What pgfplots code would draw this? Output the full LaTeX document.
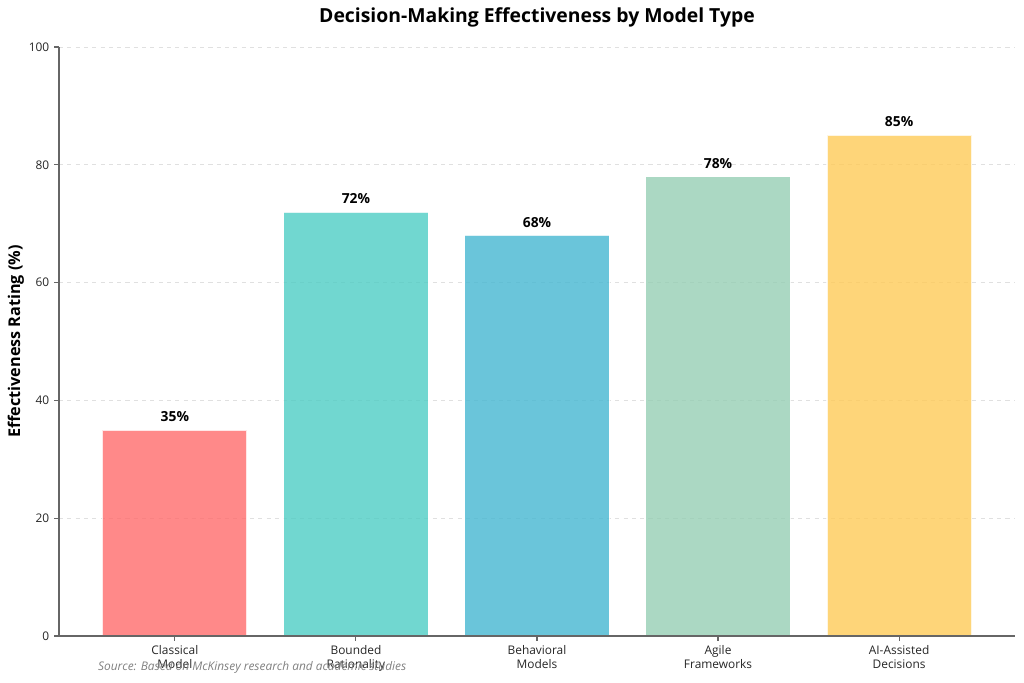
\documentclass[border=0pt]{standalone}
\usepackage{pgfplots}
\pgfplotsset{compat=1.18}
\usepackage{fontspec}
\setmainfont{Open Sans}

\definecolor{cRed}{HTML}{FF6B6B}
\definecolor{cTeal}{HTML}{4ECDC4}
\definecolor{cBlue}{HTML}{45B7D1}
\definecolor{cGreen}{HTML}{96CEB4}
\definecolor{cYellow}{HTML}{FECA57}

\pgfplotsset{
  barstyle/.style={fill=#1, fill opacity=0.8, draw=white, draw opacity=0.8, line width=1.2bp},
}

\begin{document}
\begin{tikzpicture}
\useasboundingbox (-42.48bp,-33.84bp) rectangle (694.8bp,457.92bp);
\begin{axis}[
  at={(0,0)}, anchor=south west, scale only axis,
  width=688.3bp, height=424.1bp,
  xmin=-0.64, xmax=4.64, ymin=0, ymax=100,
  ybar, bar width=0.8, bar shift=0pt,
  xtick={0,1,2,3,4},
  xticklabels={Classical\\Model, Bounded\\Rationality, Behavioral\\Models, Agile\\Frameworks, AI-Assisted\\Decisions},
  xticklabel style={align=center, font=\fontsize{8.6}{9.8}\selectfont, text=black!85},
  ytick={0,20,40,60,80,100},
  yticklabel style={font=\fontsize{8.6}{10}\selectfont, text=black!85},
  /pgf/number format/assume math mode=true,
  axis x line*=bottom, axis y line*=left,
  axis line style={black!60, line width=0.8bp},
  tick style={black!60, line width=0.8bp},
  tick align=outside, major tick length=3.5bp,
  ymajorgrids, grid style={dashed, black!12, line width=0.6bp},
  title={Decision-Making Effectiveness by Model Type},
  title style={font=\fontsize{14}{16}\selectfont\bfseries, yshift=4.5bp},
  ylabel={Effectiveness Rating (\%)},
  ylabel style={font=\fontsize{11.7}{14}\selectfont\bfseries, at={(axis description cs:-0.045,0.5)}, anchor=center},
  nodes near coords={\pgfmathprintnumber{\pgfplotspointmeta}\%},
  every node near coord/.append style={font=\fontsize{10}{12}\selectfont\bfseries, text=black, fill opacity=1, text opacity=1, draw opacity=1, yshift=2bp},
]
\addplot[barstyle=cRed] coordinates {(0,35)};
\addplot[barstyle=cTeal] coordinates {(1,72)};
\addplot[barstyle=cBlue] coordinates {(2,68)};
\addplot[barstyle=cGreen] coordinates {(3,78)};
\addplot[barstyle=cYellow] coordinates {(4,85)};
\draw[black!60, line width=0.8bp] (rel axis cs:0,0) -- (rel axis cs:1,0);
\end{axis}
\node[anchor=west, inner sep=0pt, text=black!50, font=\fontsize{8.6}{10}\selectfont\itshape] at (28bp,-22.3bp) {Source: Based on McKinsey research and academic studies};
\end{tikzpicture}
\end{document}
